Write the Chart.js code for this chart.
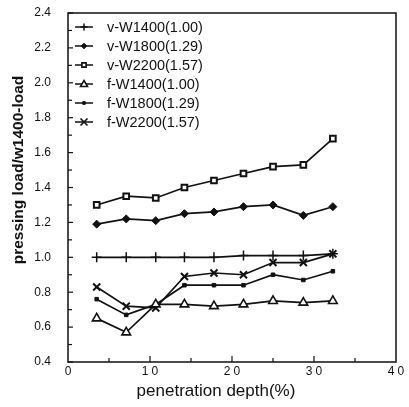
<!DOCTYPE html>
<html>
<head>
<meta charset="utf-8">
<script src="https://cdn.jsdelivr.net/npm/chart.js@4.4.0/dist/chart.umd.min.js"></script>
<style>
  html, body { margin: 0; padding: 0; background: #fff; }
  #wrap { width: 409px; height: 407px; }
</style>
</head>
<body>
<div id="wrap"><canvas id="myChart" width="409" height="407"></canvas></div>
<script>
/*************** data ***************/
var depth = [3.5, 7.1, 10.7, 14.2, 17.8, 21.4, 25.0, 28.7, 32.3];

var vW1400 = [1.00, 1.00, 1.00, 1.00, 1.00, 1.01, 1.01, 1.01, 1.02];
var vW1800 = [1.19, 1.22, 1.21, 1.25, 1.26, 1.29, 1.30, 1.24, 1.29];
var vW2200 = [1.30, 1.35, 1.34, 1.40, 1.44, 1.48, 1.52, 1.53, 1.68];
var fW1400 = [0.65, 0.57, 0.73, 0.73, 0.72, 0.73, 0.75, 0.74, 0.75];
var fW1800 = [0.76, 0.67, 0.73, 0.84, 0.84, 0.84, 0.90, 0.87, 0.92];
var fW2200 = [0.83, 0.72, 0.71, 0.89, 0.91, 0.90, 0.97, 0.97, 1.02];

var seriesNames = ["v-W1400(1.00)", "v-W1800(1.29)", "v-W2200(1.57)",
                   "f-W1400(1.00)", "f-W1800(1.29)", "f-W2200(1.57)"];

var xTicks = [0, 10, 20, 30, 40];
var yTicks = [0.4, 0.6, 0.8, 1.0, 1.2, 1.4, 1.6, 1.8, 2.0, 2.2, 2.4];

var xTitle = "penetration depth(%)";
var yTitle = "pressing load/w1400-load";

/*************** helpers ***************/
function pts(vals) {
  return vals.map(function (v, i) { return { x: depth[i], y: v }; });
}

function ds(label, vals, style, radius, fill, bw) {
  return {
    label: label,
    data: pts(vals),
    borderColor: '#111',
    borderWidth: 1.7,
    pointStyle: style,
    pointRadius: radius,
    pointBorderWidth: bw,
    pointBackgroundColor: fill,
    pointBorderColor: '#111',
    tension: 0,
    fill: false
  };
}

var datasets = [
  ds(seriesNames[0], vW1400, 'cross', 5, '#111', 1.5),
  ds(seriesNames[1], vW1800, 'rectRot', 4, '#111', 1),
  ds(seriesNames[2], vW2200, 'rect', 4, '#fff', 2),
  ds(seriesNames[3], fW1400, 'triangle', 5, '#fff', 1.6),
  ds(seriesNames[4], fW1800, 'rect', 2.5, '#111', 1),
  ds(seriesNames[5], fW2200, 'crossRot', 5, '#111', 2)
];

// small legend marker, drawn by hand
function legendMark(c, style, r, fill, x, y) {
  c.beginPath();
  if (style === 'cross') {
    c.moveTo(x - r, y); c.lineTo(x + r, y);
    c.moveTo(x, y - r); c.lineTo(x, y + r);
    c.stroke();
    return;
  }
  if (style === 'crossRot') {
    c.moveTo(x - r, y - r); c.lineTo(x + r, y + r);
    c.moveTo(x + r, y - r); c.lineTo(x - r, y + r);
    c.stroke();
    return;
  }
  if (style === 'rectRot') {
    c.moveTo(x, y - r); c.lineTo(x + r, y); c.lineTo(x, y + r); c.lineTo(x - r, y);
  } else if (style === 'triangle') {
    c.moveTo(x, y - r); c.lineTo(x + r, y + r * 0.7); c.lineTo(x - r, y + r * 0.7);
  } else {
    c.rect(x - r * 0.75, y - r * 0.75, r * 1.5, r * 1.5);
  }
  c.closePath();
  c.fillStyle = fill;
  c.fill();
  c.stroke();
}

/*************** frame, inward ticks, titles, legend ***************/
var decor = {
  id: 'decor',
  afterDraw: function (chart) {
    var c = chart.ctx, a = chart.chartArea;
    var xs = chart.scales.x, ys = chart.scales.y;
    c.save();
    c.strokeStyle = '#111';
    c.lineWidth = 1.5;
    c.strokeRect(a.left, a.top, a.right - a.left, a.bottom - a.top);

    // y ticks every 0.1, inward
    c.lineWidth = 1.2;
    for (var k = 4; k <= 24; k++) {
      var py = ys.getPixelForValue(k / 10);
      c.beginPath();
      c.moveTo(a.left, py);
      c.lineTo(a.left + (k % 2 === 0 ? 5 : 4), py);
      c.stroke();
    }
    // x ticks every 5, inward
    for (var t = 5; t < 40; t += 5) {
      var px = xs.getPixelForValue(t);
      c.beginPath();
      c.moveTo(px, a.bottom);
      c.lineTo(px, a.bottom - (t % 10 === 0 ? 6 : 4));
      c.stroke();
    }

    // x tick labels (letter spaced)
    c.fillStyle = '#111';
    c.font = '12px "Liberation Sans", Arial, sans-serif';
    c.textAlign = 'center';
    c.textBaseline = 'top';
    if ('letterSpacing' in c) c.letterSpacing = '3px';
    xTicks.forEach(function (v) {
      c.fillText(String(v), xs.getPixelForValue(v) + 1.5, a.bottom + 4);
    });
    if ('letterSpacing' in c) c.letterSpacing = '0px';

    // axis titles
    c.font = '17px "Liberation Sans", Arial, sans-serif';
    c.textBaseline = 'middle';
    c.fillText(xTitle, 216, 391);
    c.save();
    c.translate(19, 170);
    c.rotate(-Math.PI / 2);
    c.font = 'bold 15.5px "Liberation Sans", Arial, sans-serif';
    c.fillText(yTitle, 0, 0);
    c.restore();

    // legend inside plot
    c.font = '14.5px "Liberation Sans", Arial, sans-serif';
    c.textAlign = 'left';
    chart.data.datasets.forEach(function (d, i) {
      var ly = 27 + i * 19;
      c.fillStyle = '#111';
      c.fillText(d.label, 107, ly + 1);
      c.strokeStyle = '#111';
      c.lineWidth = 1.5;
      c.beginPath();
      c.moveTo(75, ly);
      c.lineTo(93, ly);
      c.stroke();
      c.lineWidth = Math.min(d.pointBorderWidth, 1.6);
      legendMark(c, d.pointStyle, d.pointRadius * 0.7, d.pointBackgroundColor, 84, ly);
    });
    c.restore();
  }
};

/*************** chart ***************/
const ctx = document.getElementById('myChart').getContext('2d');

new Chart(ctx, {
  type: 'line',
  data: { datasets: datasets },
  options: {
    responsive: false,
    animation: false,
    layout: { padding: { top: 13, right: 13, bottom: 0, left: 0 } },
    scales: {
      x: {
        type: 'linear',
        min: 0,
        max: 40,
        grid: { display: false, drawTicks: false },
        border: { display: false },
        ticks: { display: false, stepSize: 10 },
        afterFit: function (s) {
          s.height = 45;
          s.paddingLeft = 0; s.paddingRight = 0;
        }
      },
      y: {
        min: 0.4,
        max: 2.4,
        grid: { display: false, drawTicks: false },
        border: { display: false },
        afterBuildTicks: function (s) {
          s.ticks = yTicks.map(function (v) { return { value: v }; });
        },
        ticks: {
          padding: 17,
          color: '#111',
          font: { size: 12, family: '"Liberation Sans", Arial, sans-serif' },
          callback: function (v) { return Number(v).toFixed(1); }
        },
        afterFit: function (s) {
          s.width = 68;
          s.paddingTop = 0; s.paddingBottom = 0;
        }
      }
    },
    plugins: {
      legend: { display: false },
      tooltip: { enabled: false }
    }
  },
  plugins: [decor]
});
</script>
</body>
</html>
